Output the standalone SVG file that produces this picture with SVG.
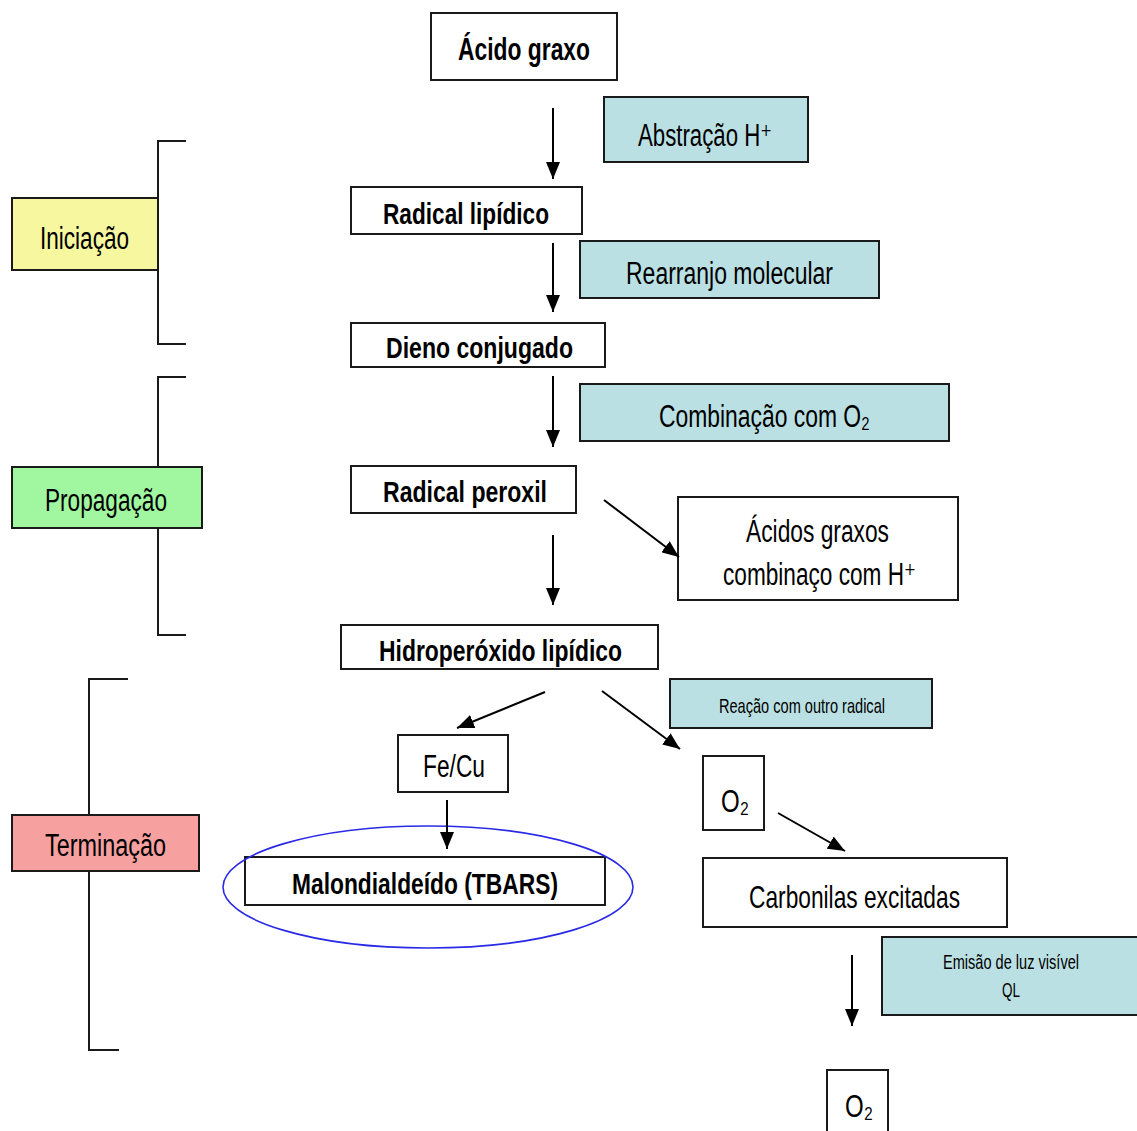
<svg xmlns="http://www.w3.org/2000/svg" width="1137" height="1131" viewBox="0 0 1137 1131">
<defs>
<marker id="ah" viewBox="0 0 10 10" refX="10" refY="5" markerWidth="17" markerHeight="14" markerUnits="userSpaceOnUse" orient="auto" preserveAspectRatio="none">
<path d="M0,0 L10,5 L0,10 Z" fill="#000"/>
</marker>
<style>
.box{fill:#fff;stroke:#1a1a1a;stroke-width:2}
.teal{fill:#bbe0e3;stroke:#1a1a1a;stroke-width:2}
.t{font-family:"Liberation Sans","DejaVu Sans",Arial,sans-serif;fill:#000}
.b{font-weight:bold}
.con line{stroke:#000;stroke-width:2;marker-end:url(#ah)}
.br{fill:none;stroke:#1a1a1a;stroke-width:2}
</style>
</defs>
<rect width="1137" height="1131" fill="#fff"/>

<g id="iniciacao">
<polyline class="br" points="186,141 158,141 158,344 186,344"/>
<rect x="12" y="198" width="146" height="72" fill="#f7f7a0" stroke="#1a1a1a" stroke-width="2"/>
<text class="t" x="40" y="249" font-size="31" textLength="89" lengthAdjust="spacingAndGlyphs">Iniciação</text>
</g>
<g id="propagacao">
<polyline class="br" points="186,377 158,377 158,635 186,635"/>
<rect x="12" y="467" width="190" height="61" fill="#a0f7a0" stroke="#1a1a1a" stroke-width="2"/>
<text class="t" x="45" y="511" font-size="31" textLength="122" lengthAdjust="spacingAndGlyphs">Propagação</text>
</g>
<g id="terminacao">
<polyline class="br" points="128,679 89,679 89,1050 119,1050"/>
<rect x="12" y="815" width="187" height="56" fill="#f7a0a0" stroke="#1a1a1a" stroke-width="2"/>
<text class="t" x="45" y="856" font-size="31" textLength="121" lengthAdjust="spacingAndGlyphs">Terminação</text>
</g>

<g id="acido-graxo">
<rect class="box" x="431" y="13" width="186" height="67"/>
<text class="t b" x="458" y="60" font-size="31" textLength="132" lengthAdjust="spacingAndGlyphs">Ácido graxo</text>
</g>
<g id="abstracao">
<rect class="teal" x="604" y="97" width="204" height="65"/>
<text class="t" x="638" y="146" font-size="31" textLength="134" lengthAdjust="spacingAndGlyphs">Abstração H⁺</text>
</g>
<g id="radical-lipidico">
<rect class="box" x="351" y="187" width="231" height="47"/>
<text class="t b" x="383" y="224" font-size="29" textLength="166" lengthAdjust="spacingAndGlyphs">Radical lipídico</text>
</g>
<g id="rearranjo">
<rect class="teal" x="580" y="241" width="299" height="57"/>
<text class="t" x="626" y="284" font-size="31" textLength="207" lengthAdjust="spacingAndGlyphs">Rearranjo molecular</text>
</g>
<g id="dieno">
<rect class="box" x="351" y="323" width="254" height="44"/>
<text class="t b" x="386" y="358" font-size="29" textLength="187" lengthAdjust="spacingAndGlyphs">Dieno conjugado</text>
</g>
<g id="combinacao">
<rect class="teal" x="580" y="384" width="369" height="57"/>
<text class="t" x="659" y="427" font-size="31" textLength="211" lengthAdjust="spacingAndGlyphs">Combinação com O₂</text>
</g>
<g id="radical-peroxil">
<rect class="box" x="351" y="466" width="225" height="47"/>
<text class="t b" x="383" y="502" font-size="29" textLength="164" lengthAdjust="spacingAndGlyphs">Radical peroxil</text>
</g>
<g id="acidos-graxos">
<rect class="box" x="678" y="497" width="280" height="103"/>
<text class="t" x="746" y="542" font-size="31" textLength="143" lengthAdjust="spacingAndGlyphs">Ácidos graxos</text>
<text class="t" x="723" y="585" font-size="31" textLength="193" lengthAdjust="spacingAndGlyphs">combinaço com H⁺</text>
</g>
<g id="hidroperoxido">
<rect class="box" x="341" y="625" width="317" height="44"/>
<text class="t b" x="379" y="661" font-size="29" textLength="243" lengthAdjust="spacingAndGlyphs">Hidroperóxido lipídico</text>
</g>
<g id="reacao">
<rect class="teal" x="670" y="679" width="262" height="49"/>
<text class="t" x="719" y="713" font-size="21" textLength="166" lengthAdjust="spacingAndGlyphs">Reação com outro radical</text>
</g>
<g id="fecu">
<rect class="box" x="398" y="735" width="110" height="57"/>
<text class="t" x="423" y="777" font-size="31" textLength="62" lengthAdjust="spacingAndGlyphs">Fe/Cu</text>
</g>
<g id="malondialdeido">
<rect class="box" x="245" y="857" width="360" height="48"/>
<text class="t b" x="292" y="894" font-size="29" textLength="266" lengthAdjust="spacingAndGlyphs">Malondialdeído (TBARS)</text>
<ellipse cx="428" cy="887" rx="205" ry="61" fill="none" stroke="#2a2ae6" stroke-width="1.6"/>
</g>
<g id="o2-a">
<rect class="box" x="703" y="756" width="61" height="74"/>
<text class="t" x="721" y="812" font-size="31" textLength="28" lengthAdjust="spacingAndGlyphs">O₂</text>
</g>
<g id="carbonilas">
<rect class="box" x="703" y="858" width="304" height="69"/>
<text class="t" x="749" y="908" font-size="32" textLength="211" lengthAdjust="spacingAndGlyphs">Carbonilas excitadas</text>
</g>
<g id="emisao">
<rect class="teal" x="882" y="937" width="258" height="78"/>
<text class="t" x="943" y="969" font-size="21" textLength="136" lengthAdjust="spacingAndGlyphs">Emisão de luz visível</text>
<text class="t" x="1002" y="997" font-size="21" textLength="18" lengthAdjust="spacingAndGlyphs">QL</text>
</g>
<g id="o2-b">
<rect class="box" x="827" y="1070" width="61" height="70"/>
<text class="t" x="845" y="1117" font-size="31" textLength="28" lengthAdjust="spacingAndGlyphs">O₂</text>
</g>

<g id="connectors" class="con">
<line x1="553" y1="108" x2="553" y2="179"/>
<line x1="553" y1="243" x2="553" y2="312"/>
<line x1="553" y1="376" x2="553" y2="447"/>
<line x1="553" y1="535" x2="553" y2="605"/>
<line x1="604" y1="500" x2="679" y2="557"/>
<line x1="545" y1="692" x2="457" y2="728"/>
<line x1="602" y1="691" x2="680" y2="749"/>
<line x1="447" y1="800" x2="447" y2="849"/>
<line x1="778" y1="813" x2="845" y2="851"/>
<line x1="852" y1="955" x2="852" y2="1026"/>
</g>
</svg>
